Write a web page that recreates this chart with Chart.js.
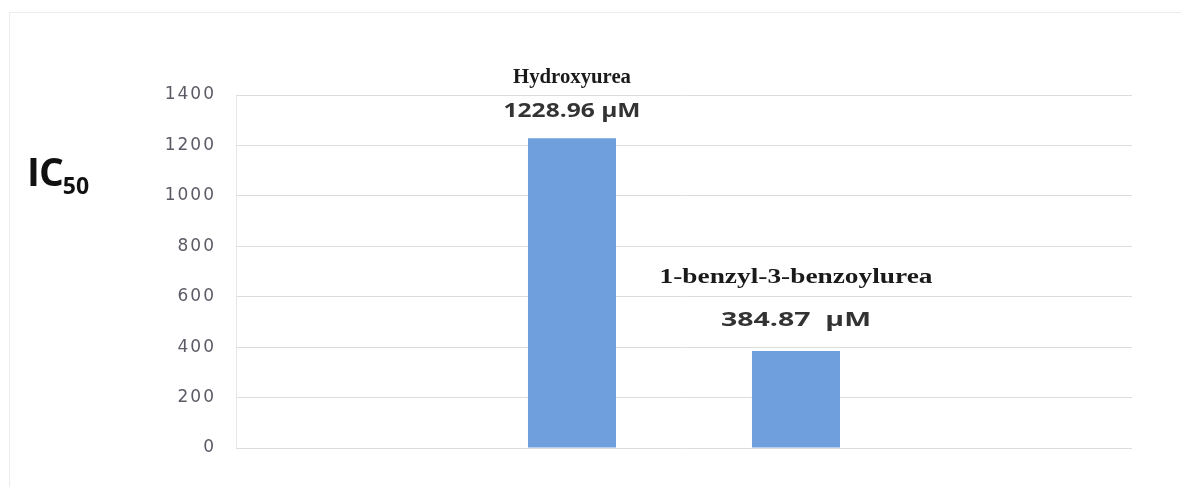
<!DOCTYPE html>
<html>
<head>
<meta charset="utf-8">
<script src="https://cdn.jsdelivr.net/npm/chart.js@4/dist/chart.umd.min.js"></script>
<style>
  html, body { margin: 0; padding: 0; background: #fff; }
  #wrap { position: relative; width: 1181px; height: 487px; }
  #frame { position: absolute; left: 9px; top: 12px; width: 1180px; height: 480px; border: 1px solid #ececec; box-sizing: border-box; }
  #ic50 { position: absolute; left: 27px; top: 148px; font-family: "Open Sans", sans-serif; font-weight: bold; font-size: 39px; color: #111; letter-spacing: -1px; line-height: 1.2; }
  #ic50 sub { font-size: 23px; vertical-align: -8px; letter-spacing: 0; }
</style>
</head>
<body>
<div id="wrap">
  <div id="frame"></div>
  <canvas id="chart" width="1181" height="487"></canvas>
  <div id="ic50">IC<sub>50</sub></div>
</div>
<script>
// categories: empty slots at both ends, as in the original spreadsheet chart
const categories = ["", "Hydroxyurea", "1-benzyl-3-benzoylurea", ""];
const ic50Values = [null, 1228.96, 384.87, null];
const valueLabels = ["", "1228.96 µM", "384.87  µM", ""];
const yTicks = [0, 200, 400, 600, 800, 1000, 1200, 1400];

// label placement: distance above the bar top, and drawn width (the original is stretched)
const nameOffset = [0, 60, 73, 0];
const valueOffset = [0, 27, 31, 0];
const nameWidth = [0, 118, 273, 0];
const valueWidth = [0, 137, 150, 0];

function stretchText(ctx, text, x, y, width) {
  const w = ctx.measureText(text).width;
  ctx.save();
  ctx.translate(x, y);
  ctx.scale(width / w, 1);
  ctx.fillText(text, 0, 0);
  ctx.restore();
}

const tickSpacing = {
  id: "tickSpacing",
  beforeDraw(chart) { chart.ctx.letterSpacing = "2px"; },
  beforeDatasetsDraw(chart) { chart.ctx.letterSpacing = "0px"; }
};

const barLabels = {
  id: "barLabels",
  afterDatasetsDraw(chart) {
    const ctx = chart.ctx;
    const meta = chart.getDatasetMeta(0);
    ctx.save();
    ctx.textAlign = "center";
    ctx.textBaseline = "middle";
    meta.data.forEach((bar, i) => {
      if (ic50Values[i] == null) return;
      ctx.fillStyle = "#1a1a1a";
      ctx.font = "bold 20px 'Liberation Serif', serif";
      stretchText(ctx, categories[i], bar.x, bar.y - nameOffset[i], nameWidth[i]);
      ctx.fillStyle = "#333333";
      ctx.font = "bold 20px 'Open Sans', sans-serif";
      stretchText(ctx, valueLabels[i], bar.x, bar.y - valueOffset[i], valueWidth[i]);
    });
    ctx.restore();
  }
};

new Chart(document.getElementById("chart"), {
  type: "bar",
  data: {
    labels: categories,
    datasets: [{
      data: ic50Values,
      backgroundColor: "#6f9fdd",
      borderWidth: 0,
      categoryPercentage: 1,
      barPercentage: 0.393
    }]
  },
  options: {
    responsive: false,
    animation: false,
    layout: { padding: { left: 0, right: 49, top: 95, bottom: 39 } },
    plugins: { legend: { display: false }, tooltip: { enabled: false } },
    scales: {
      x: { display: false },
      y: {
        min: 0,
        max: 1400,
        afterFit: s => { s.width = 236; },
        afterBuildTicks: s => { s.ticks = yTicks.map(v => ({ value: v })); },
        ticks: {
          color: "#5b5b66",
          padding: 20,
          callback: v => String(v),
          font: { family: "'DejaVu Sans', sans-serif", size: 17 }
        },
        grid: { color: "#dcdcdc", drawTicks: false },
        border: { display: true, color: "#e6e6e6" }
      }
    }
  },
  plugins: [tickSpacing, barLabels]
});
</script>
</body>
</html>
